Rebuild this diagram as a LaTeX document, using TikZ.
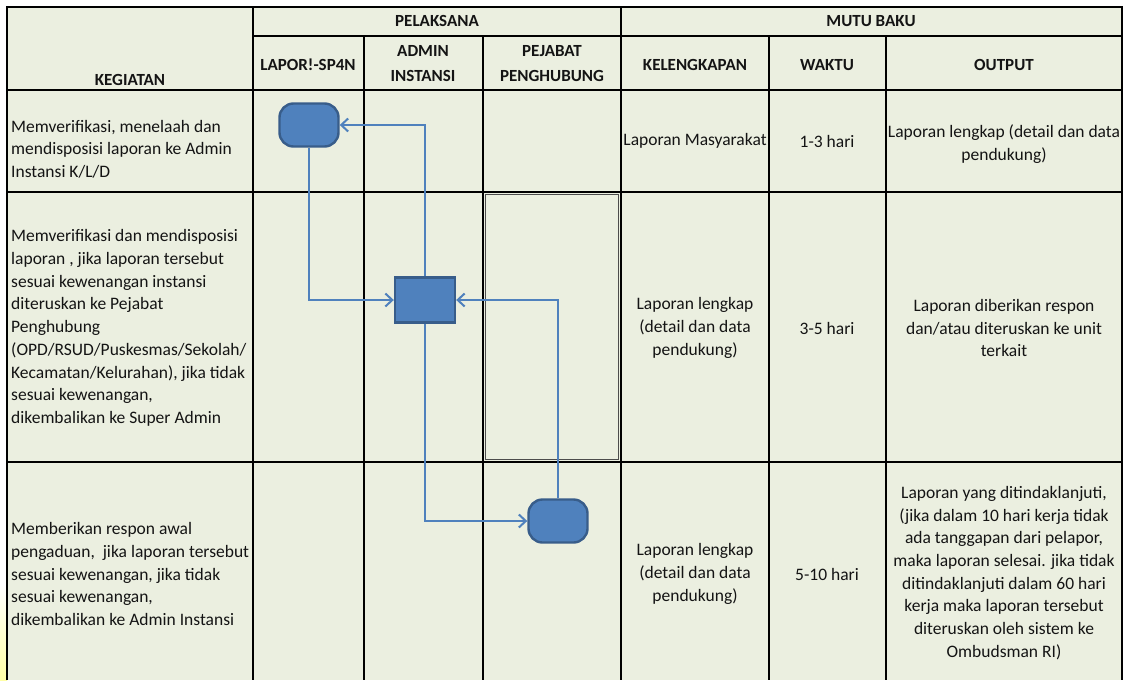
\documentclass[tikz,border=0pt]{standalone}
\usepackage{fontspec}
\setmainfont{Carlito}
\usetikzlibrary{arrows.meta}
\definecolor{cellbg}{HTML}{EBEFE0}
\definecolor{flowblue}{HTML}{4F81BD}
\definecolor{flowedge}{HTML}{385D8A}
\definecolor{txt}{HTML}{141414}
\tikzset{
  head/.style={font=\fontsize{17}{25}\selectfont\bfseries, text=txt, align=center, inner sep=0pt},
  cell/.style={font=\fontsize{17.5}{22.7}\selectfont, text=txt, align=center, inner sep=0pt},
  task/.style={cell, align=left, anchor=west},
  proc/.style={draw=flowedge, fill=flowblue, line width=2.4pt, minimum width=60pt, minimum height=45pt, inner sep=0pt},
  term/.style={proc, rounded corners=14pt, minimum height=43pt, minimum width=59pt},
  flow/.style={draw=flowblue, line width=2pt, -{Straight Barb[length=7pt,width=13pt]}},
}
\begin{document}
\begin{tikzpicture}[x=1pt,y=-1pt]
  \useasboundingbox (0,0) rectangle (1124,680);
  \shade[top color=white, bottom color=yellow!35] (0,585) rectangle (7,680);
  \fill[cellbg] (7,7) rectangle (1122,680);
  % grid
  \begin{scope}[line width=1.1pt]
    \draw (7,680) -- (7,7) -- (1122,7) -- (1122,680);
    \draw (253,36) -- (1122,36);
    \foreach \y in {90,192,462}
      \draw (7,\y) -- (1122,\y);
    \foreach \x in {253,621}
      \draw (\x,7) -- (\x,680);
    \foreach \x in {364,483,769,886}
      \draw (\x,36) -- (\x,680);
  \end{scope}
  \draw[gray!60!black, line width=1pt] (485.5,194.5) rectangle (618.5,459.5);
  % headers
  \node[head] (pelaksana) at (437,21) {PELAKSANA};
  \node[head] (mutu) at (871,21) {MUTU BAKU};
  \node[head] (kegiatan) at (130,80) {KEGIATAN};
  \node[head] (laporh) at (308,65) {LAPOR!-SP4N};
  \node[head] (adminh) at (423,64) {ADMIN\\INSTANSI};
  \node[head] (pejabath) at (552,64) {PEJABAT\\PENGHUBUNG};
  \node[head] (lengkaph) at (695,65) {KELENGKAPAN};
  \node[head] (waktuh) at (827,65) {WAKTU};
  \node[head] (outputh) at (1004,65) {OUTPUT};
  % rows
  \node[task] (t1) at (11,149) {Memverifikasi, menelaah dan\\mendisposisi laporan ke Admin\\Instansi K/L/D};
  \node[cell] (k1) at (695,141) {Laporan Masyarakat};
  \node[cell] (w1) at (827,141) {1-3 hari};
  \node[cell] (o1) at (1004,144) {Laporan lengkap (detail dan data\\pendukung)};
  \node[task] (t2) at (11,328) {Memverifikasi dan mendisposisi\\laporan , jika laporan tersebut\\sesuai kewenangan instansi\\diteruskan ke Pejabat\\Penghubung\\(OPD/RSUD/Puskesmas/Sekolah/\\Kecamatan/Kelurahan), jika tidak\\sesuai kewenangan,\\dikembalikan ke Super Admin};
  \node[cell] (k2) at (695,328) {Laporan lengkap\\(detail dan data\\pendukung)};
  \node[cell] (w2) at (827,328) {3-5 hari};
  \node[cell] (o2) at (1004,328) {Laporan diberikan respon\\dan/atau diteruskan ke unit\\terkait};
  \node[task] (t3) at (11,574) {Memberikan respon awal\\pengaduan,\ \ jika laporan tersebut\\sesuai kewenangan, jika tidak\\sesuai kewenangan,\\dikembalikan ke Admin Instansi};
  \node[cell] (k3) at (695,574) {Laporan lengkap\\(detail dan data\\pendukung)};
  \node[cell] (w3) at (827,574) {5-10 hari};
  \node[cell] (o3) at (1004,573) {Laporan yang ditindaklanjuti,\\(jika dalam 10 hari kerja tidak\\ada tanggapan dari pelapor,\\maka laporan selesai. jika tidak\\ditindaklanjuti dalam 60 hari\\kerja maka laporan tersebut\\diteruskan oleh sistem ke\\Ombudsman RI)};
  % flow
  \node[term] (lapor) at (309,125) {};
  \node[proc] (admin) at (425,300) {};
  \node[term] (pejabat) at (558,521) {};
  \begin{scope}[flow]
    \draw (lapor.south) |- (admin.west);
    \draw (admin.north) |- (lapor.east);
    \draw (admin.south) |- (pejabat.west);
    \draw (pejabat.north) |- (admin.east);
  \end{scope}
\end{tikzpicture}
\end{document}
